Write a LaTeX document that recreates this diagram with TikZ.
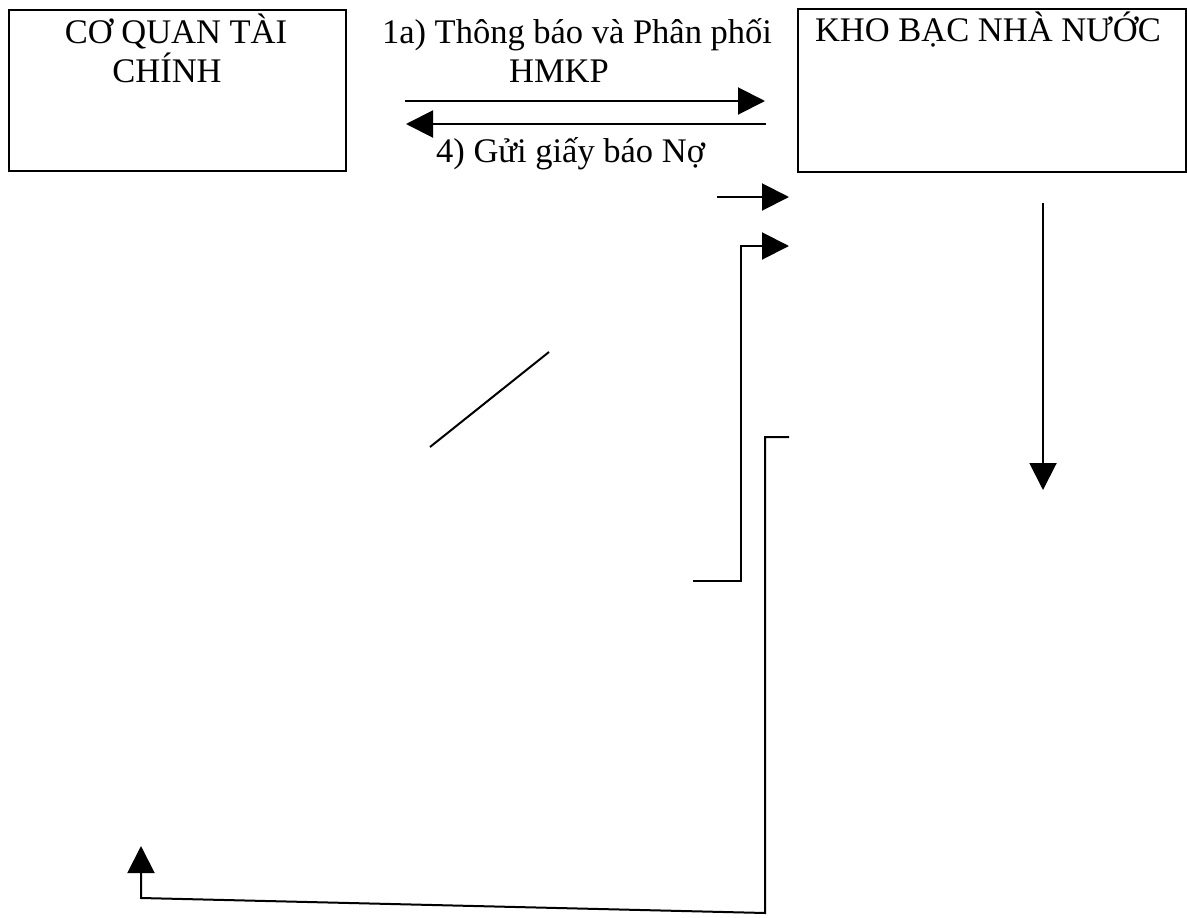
\documentclass[tikz,border=0pt]{standalone}
\usepackage{fontspec}
\setmainfont{Liberation Serif}
\usetikzlibrary{arrows.meta}
\begin{document}
\begin{tikzpicture}[x=1pt,y=-1pt,
  box/.style={draw,line width=2.2pt,inner sep=0pt,anchor=north west},
  lbl/.style={inner sep=0pt,anchor=base,font=\fontsize{34.5}{39.5}\selectfont},
  conn/.style={line width=2pt},
  arr/.style={conn,-{Triangle[length=27pt,width=27pt]}}]
\useasboundingbox (0,0) rectangle (1187,918);
% boxes
\node[box,minimum width=337pt,minimum height=161pt] (cqtc) at (8,9) {};
\node[box,minimum width=388pt,minimum height=163pt] (kbnn) at (797,8) {};
% texts
\node[lbl] (cq1) at (176,43) {CƠ QUAN TÀI};
\node[lbl] (cq2) at (167,82) {CHÍNH};
\node[lbl] (kb1) at (988,41) {KHO BẠC NHÀ NƯỚC};
\node[lbl] (l1a) at (577,43) {1a) Thông báo và Phân phối};
\node[lbl] (l1b) at (559,82) {HMKP};
\node[lbl,anchor=base west] (l4) at (436,162) {4) Gửi giấy báo Nợ};
% coordinates
\coordinate (a1s) at (405,101);
\coordinate (a1e) at (765,101);
\coordinate (a4s) at (766,124);
\coordinate (a4e) at (406,124);
\coordinate (s1) at (717,197);
\coordinate (s2) at (789,197);
\coordinate (b1) at (693,581);
\coordinate (b2) at (741,581);
\coordinate (b3) at (741,246);
\coordinate (b4) at (789,246);
\coordinate (d1) at (430,447);
\coordinate (d2) at (549,352);
\coordinate (v1) at (1043,203);
\coordinate (v2) at (1043,490);
\coordinate (c1) at (789,437);
\coordinate (c2) at (765,437);
\coordinate (c3) at (765,913);
\coordinate (c4) at (141,898);
\coordinate (c5) at (141,846);
% connectors
\draw[arr] (a1s) -- (a1e);
\draw[arr] (a4s) -- (a4e);
\draw[arr] (s1) -- (s2);
\draw[arr] (b1) -- (b2) -- (b3) -- (b4);
\draw[conn] (d1) -- (d2);
\draw[arr] (v1) -- (v2);
\draw[arr] (c1) -- (c2) -- (c3) -- (c4) -- (c5);
\end{tikzpicture}
\end{document}
